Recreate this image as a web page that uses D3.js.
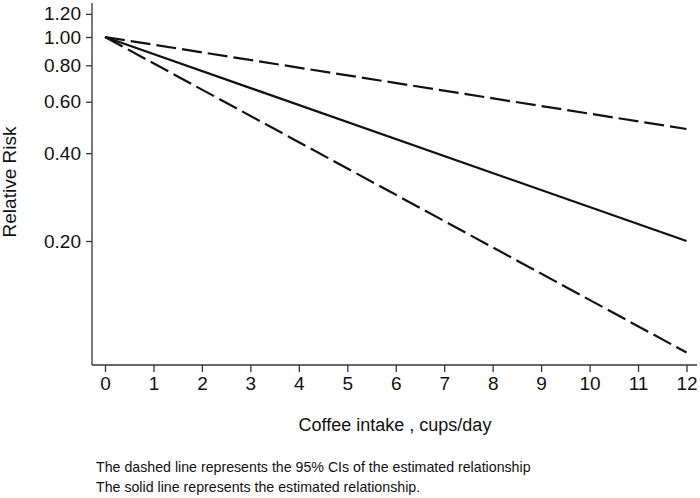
<!DOCTYPE html>
<html><head><meta charset="utf-8">
<script src="https://cdn.jsdelivr.net/npm/d3@7"></script>
<style>body{margin:0;background:#fff}svg{display:block}text{font-family:"Liberation Sans",Arial,sans-serif;fill:#111}</style>
</head><body>
<svg id="c" width="700" height="498"></svg>
<script>
const xTicks = [0,1,2,3,4,5,6,7,8,9,10,11,12];
const yTicks = [0.20,0.40,0.60,0.80,1.00,1.20];
const cups = [0, 12];
const estimate = [1.00, 0.200];
const upperCI = [1.00, 0.484];
const lowerCI = [1.00, 0.083];

const svg = d3.select("#c");
const x = d3.scaleLinear().domain([0,12]).range([105,686.5]);
const y = d3.scaleLog().domain([0.2,1.0]).range([241,37]);
const axisLeftX = 92, axisBottomY = 365;

// y axis
const ga = svg.append("g").attr("transform",`translate(${axisLeftX},0)`);
ga.append("line").attr("x1",0).attr("x2",0).attr("y1",3).attr("y2",axisBottomY).attr("stroke","#333").attr("stroke-width",1.3);
const yAxis = d3.axisLeft(y).tickValues(yTicks).tickFormat(d3.format(".2f")).tickSize(6).tickPadding(5);
ga.call(yAxis);
ga.select(".domain").remove();
ga.selectAll(".tick line").attr("stroke","#333").attr("stroke-width",1.3);
ga.selectAll(".tick text").style("font-size","19px").attr("fill","#111");

// x axis
const gx = svg.append("g").attr("transform",`translate(0,${axisBottomY})`);
gx.append("line").attr("x1",axisLeftX).attr("x2",697).attr("y1",0).attr("y2",0).attr("stroke","#333").attr("stroke-width",1.3);
const xAxis = d3.axisBottom(x).tickValues(xTicks).tickFormat(d3.format("d")).tickSize(7).tickPadding(5);
gx.call(xAxis);
gx.select(".domain").remove();
gx.selectAll(".tick line").attr("stroke","#333").attr("stroke-width",1.3);
gx.selectAll(".tick text").style("font-size","19px").attr("fill","#111");

// lines
const line = d3.line().x((d,i)=>x(cups[i])).y(d=>y(d));
svg.append("path").attr("d",line(upperCI)).attr("fill","none").attr("stroke","#111").attr("stroke-width",2.2).attr("stroke-dasharray","20,6");
svg.append("path").attr("d",line(lowerCI)).attr("fill","none").attr("stroke","#111").attr("stroke-width",2.2).attr("stroke-dasharray","20,6");
svg.append("path").attr("d",line(estimate)).attr("fill","none").attr("stroke","#111").attr("stroke-width",2.2);

// labels
svg.append("text").attr("x",395).attr("y",431).attr("text-anchor","middle").style("font-size","18px").text("Coffee intake , cups/day");
svg.append("text").attr("transform","translate(16,182) rotate(-90)").attr("text-anchor","middle").style("font-size","19px").text("Relative Risk");
svg.append("text").attr("x",96).attr("y",472).style("font-size","14.2px").text("The dashed line represents the 95% CIs of the estimated relationship");
svg.append("text").attr("x",96).attr("y",492).style("font-size","14.2px").text("The solid line represents the estimated relationship.");
</script>
</body></html>
